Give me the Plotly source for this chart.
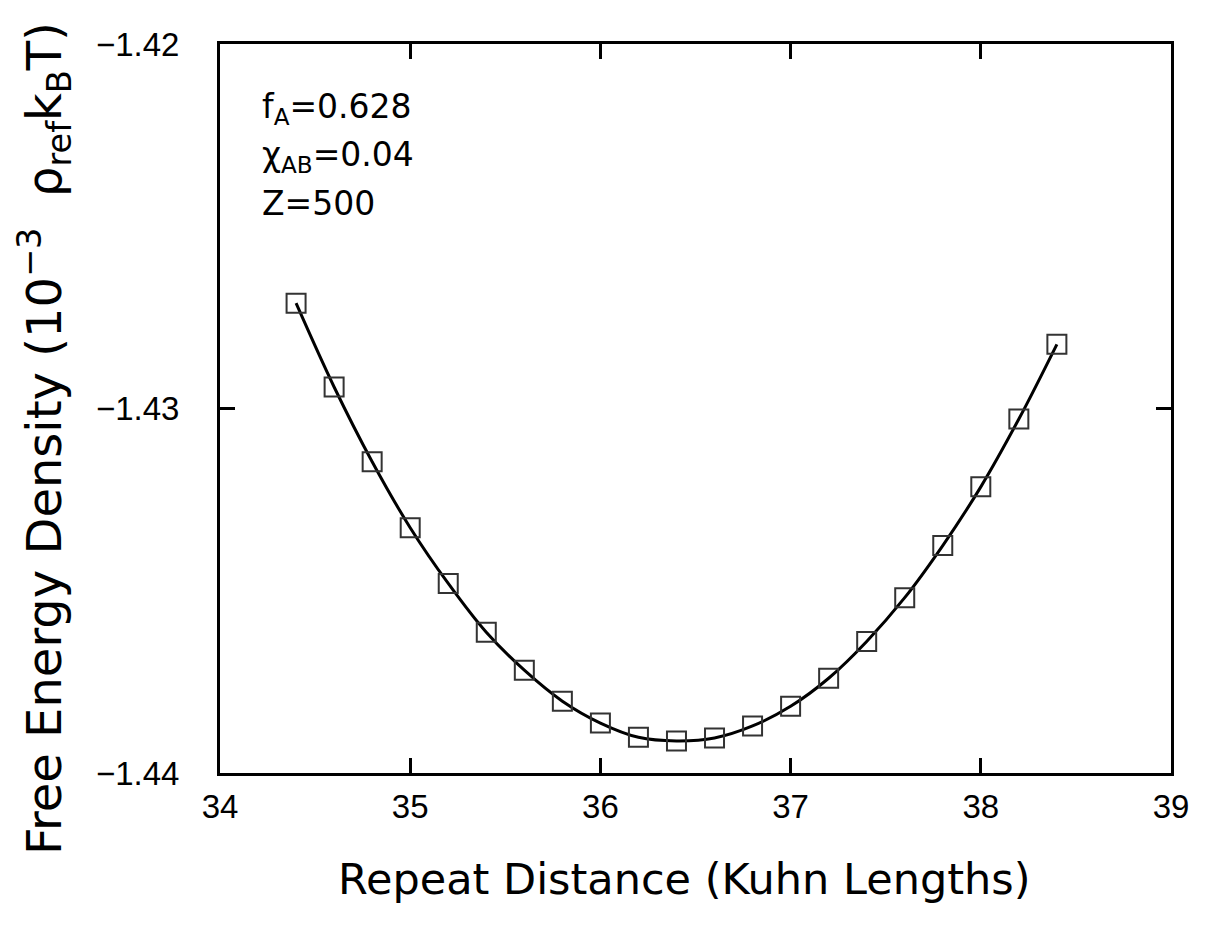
import plotly.graph_objects as go

repeat_distance = [34.4, 34.6, 34.8, 35.0, 35.2, 35.4, 35.6, 35.8, 36.0, 36.2, 36.4,
                   36.6, 36.8, 37.0, 37.2, 37.4, 37.6, 37.8, 38.0, 38.2, 38.4]
free_energy = [-1.42711, -1.42941, -1.43146, -1.43327, -1.43480, -1.43614, -1.43718,
               -1.43803, -1.43863, -1.43902, -1.43912, -1.43904, -1.43871, -1.43817,
               -1.43740, -1.43639, -1.43519, -1.43376, -1.43215, -1.43029, -1.42824]

x_ticks = [34, 35, 36, 37, 38, 39]
y_ticks = [-1.44, -1.43, -1.42]
y_tick_labels = ["\u22121.44", "\u22121.43", "\u22121.42"]

params_text = ["f<sub>A</sub>=0.628", "\u03c7<sub>AB</sub>=0.04", "Z=500"]
x_title = "Repeat Distance (Kuhn Lengths)"
y_title = "Free Energy Density (10<sup>\u22123</sup>  \u03c1<sub>ref</sub>k<sub>B</sub>T)"

tick_font = dict(family="Liberation Sans", size=33, color="black")

# plot area (target pixels in the page)
L, T, W, H = 212, 36, 951, 729

fig = go.Figure()
fig.add_trace(go.Scatter(
    x=repeat_distance, y=free_energy, mode="lines",
    line=dict(color="black", width=3, shape="spline", smoothing=1.0),
    showlegend=False, hoverinfo="skip"))
fig.add_trace(go.Scatter(
    x=repeat_distance, y=free_energy, mode="markers",
    marker=dict(symbol="square-open", size=19, color="#333333",
                line=dict(color="#333333", width=2)),
    showlegend=False))

axis_common = dict(showline=True, linecolor="black", linewidth=3, mirror="ticks",
                   ticks="inside", ticklen=15, tickwidth=3, tickcolor="black",
                   showgrid=False, zeroline=False, tickfont=tick_font)

fig.update_xaxes(range=[34, 39], tickvals=x_ticks, ticktext=[str(v) for v in x_ticks],
                 ticklabelstandoff=2, **axis_common)
fig.update_yaxes(range=[-1.44, -1.42], tickvals=y_ticks, ticktext=y_tick_labels,
                 ticklabelstandoff=31, **axis_common)

annotations = []
for i, t in enumerate(params_text):
    annotations.append(dict(
        text=t, xref="paper", yref="paper", x=40 / W,
        y=(H - (65 + 47 * i)) / H, xanchor="left", yanchor="middle",
        showarrow=False, font=dict(family="DejaVu Sans", size=33, color="black"),
        align="left"))
annotations.append(dict(
    text=x_title, xref="paper", yref="paper", x=464 / W,
    y=-106 / H, xanchor="center", yanchor="middle",
    showarrow=False, font=dict(family="DejaVu Sans", size=43, color="black")))
annotations.append(dict(
    text=y_title, xref="paper", yref="paper", x=-176 / W,
    y=(H - 395) / H, xanchor="center", yanchor="middle", textangle=-90,
    showarrow=False, font=dict(family="DejaVu Sans", size=48, color="black")))

fig.update_layout(
    width=1207, height=930,
    margin=dict(l=L, r=1207 - L - W, t=T, b=930 - T - H),
    paper_bgcolor="white", plot_bgcolor="white",
    annotations=annotations)

fig.write_html("out.html")
